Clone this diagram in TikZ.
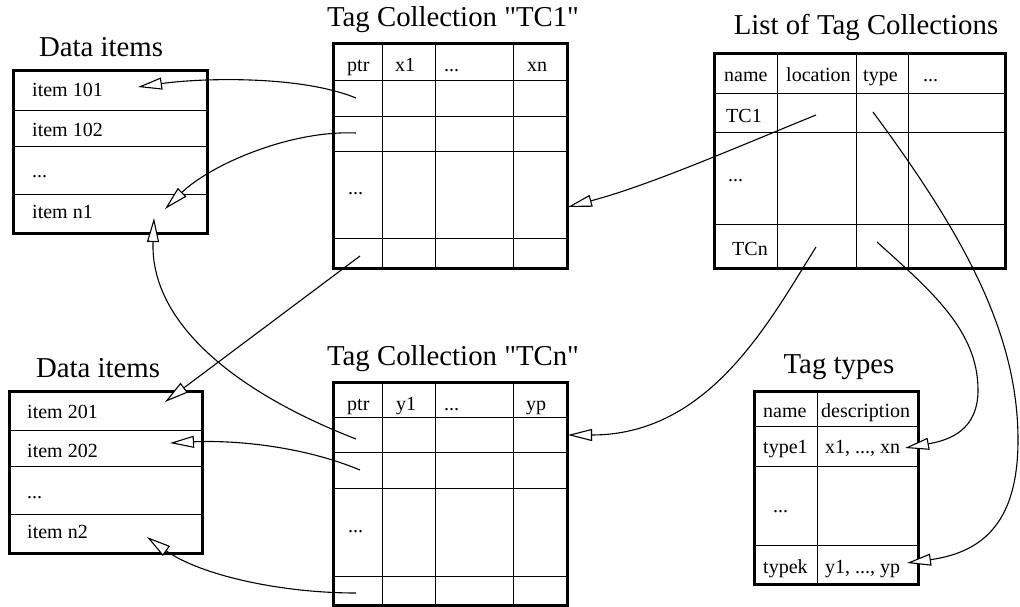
\documentclass[tikz,border=0pt]{standalone}
\usepackage{fontspec}
\setmainfont{Liberation Serif}
\newfontfamily\plainserif{Liberation Serif}
\usetikzlibrary{arrows.meta}
\tikzset{
  title/.style={anchor=base, inner sep=0pt, font=\plainserif\fontsize{28.8}{30}\selectfont},
  cell/.style={anchor=base west, inner sep=0pt, font=\fontsize{20}{22}\selectfont},
  thin/.style={line width=0.9pt},
  thick border/.style={line width=3pt},
  conn/.style={-{Triangle[length=24pt,width=12pt,fill=white]}, line width=1.1pt},
}
\begin{document}
\begin{tikzpicture}[x=1pt,y=-1pt]
\useasboundingbox (0,0) rectangle (1020,607);

% ---------- Data items 1 ----------
\node[title] (d1t) at (101,57) {Data items};
\draw[thin] (13,110) -- (207,110) (13,146) -- (207,146) (13,194) -- (207,194);
\draw[thick border] (13,71) rectangle (207,233);
\node[cell] (d1a) at (32,97) {item 101};
\node[cell] (d1b) at (32,137) {item 102};
\node[cell] (d1c) at (32,177) {...};
\node[cell] (d1d) at (32,218) {item n1};

% ---------- Data items 2 ----------
\node[title] (d2t) at (98,377) {Data items};
\draw[thin] (9,430) -- (202,430) (9,466) -- (202,466) (9,514) -- (202,514);
\draw[thick border] (9,391) rectangle (202,553);
\node[cell] (d2a) at (27,418) {item 201};
\node[cell] (d2b) at (27,457) {item 202};
\node[cell] (d2c) at (27,498) {...};
\node[cell] (d2d) at (27,538) {item n2};

% ---------- Tag Collection TC1 ----------
\node[title] (t1t) at (453,27) {Tag Collection "TC1"};
\draw[thin] (382,44) -- (382,268) (435,44) -- (435,268) (513,44) -- (513,268);
\draw[thin] (333,80) -- (567,80) (333,116) -- (567,116) (333,151) -- (567,151) (333,238) -- (567,238);
\draw[thick border] (333,44) rectangle (567,268);
\node[cell] (t1a) at (347,72) {ptr};
\node[cell] (t1b) at (395,72) {x1};
\node[cell] (t1c) at (444,72) {...};
\node[cell] (t1d) at (527,72) {xn};
\node[cell] (t1e) at (348,194) {...};

% ---------- Tag Collection TCn ----------
\node[title] (t2t) at (453,365) {Tag Collection "TCn"};
\draw[thin] (382,382) -- (382,605) (435,382) -- (435,605) (513,382) -- (513,605);
\draw[thin] (333,417) -- (567,417) (333,452) -- (567,452) (333,488) -- (567,488) (333,576) -- (567,576);
\draw[thick border] (333,382) rectangle (567,605);
\node[cell] (t2a) at (347,410) {ptr};
\node[cell] (t2b) at (396,410) {y1};
\node[cell] (t2c) at (444,410) {...};
\node[cell] (t2d) at (526,410) {yp};
\node[cell] (t2e) at (348,532) {...};

% ---------- List of Tag Collections ----------
\node[title] (lt) at (866,35) {List of Tag Collections};
\draw[thin] (777,54) -- (777,268) (856,54) -- (856,268) (908,54) -- (908,268);
\draw[thin] (714,93) -- (1005,93) (714,132) -- (1005,132) (714,224) -- (1005,224);
\draw[thick border] (714,54) rectangle (1005,268);
\node[cell] (la) at (724,82) {name};
\node[cell] (lb) at (786,82) {location};
\node[cell] (lc) at (863,82) {type};
\node[cell] (ld) at (923,82) {...};
\node[cell] (le) at (726,123) {TC1};
\node[cell] (lf) at (728,182) {...};
\node[cell] (lg) at (732,255) {TCn};

% ---------- Tag types ----------
\node[title] (tt) at (839,373) {Tag types};
\draw[thin] (817,391) -- (817,584);
\draw[thin] (754,426) -- (918,426) (754,466) -- (918,466) (754,545) -- (918,545);
\draw[thick border] (754,391) rectangle (918,584);
\node[cell] (ta) at (763,417) {name};
\node[cell] (tb) at (821,417) {description};
\node[cell] (tc) at (763,453) {type1};
\node[cell] (td) at (825,453) {x1, ..., xn};
\node[cell] (te) at (773,512) {...};
\node[cell] (tf) at (763,573) {typek};
\node[cell] (tg) at (825,573) {y1, ..., yp};

% ---------- connector end points ----------
\coordinate (c1s) at (356,98);  \coordinate (c1e) at (138,87);
\coordinate (c2s) at (356,133); \coordinate (c2e) at (165,209);
\coordinate (c3s) at (360,256); \coordinate (c3e) at (165,402);
\coordinate (c4s) at (356,439); \coordinate (c4e) at (154,218);
\coordinate (c5s) at (360,470); \coordinate (c5e) at (170,443);
\coordinate (c6s) at (356,593); \coordinate (c6e) at (147,537);
\coordinate (c7s) at (816,115); \coordinate (c7e) at (568,207);
\coordinate (c8s) at (816,247); \coordinate (c8e) at (568,435);
\coordinate (c9s) at (873,112); \coordinate (c9m) at (1018,440); \coordinate (c9e) at (907,563);
\coordinate (c10s) at (877,242); \coordinate (c10m) at (978,390); \coordinate (c10e) at (905,448);

% ---------- connectors ----------
\draw[conn] (c1s) .. controls (300,75) and (200,78) .. (c1e);
\draw[conn] (c2s) .. controls (290,130) and (210,165) .. (c2e);
\draw[conn] (c3s) -- (c3e);
\draw[conn] (c4s) .. controls (230,390) and (150,320) .. (c4e);
\draw[conn] (c5s) .. controls (300,445) and (230,440) .. (c5e);
\draw[conn] (c6s) .. controls (280,593) and (200,575) .. (c6e);
\draw[conn] (c7s) .. controls (730,150) and (650,185) .. (c7e);
\draw[conn] (c8s) .. controls (770,320) and (710,435) .. (c8e);
\draw[conn] (c9s) .. controls (960,230) and (1018,330) .. (c9m)
                  .. controls (1018,520) and (985,552) .. (c9e);
\draw[conn] (c10s) .. controls (930,290) and (978,330) .. (c10m)
                   .. controls (978,430) and (950,440) .. (c10e);
\end{tikzpicture}
\end{document}
